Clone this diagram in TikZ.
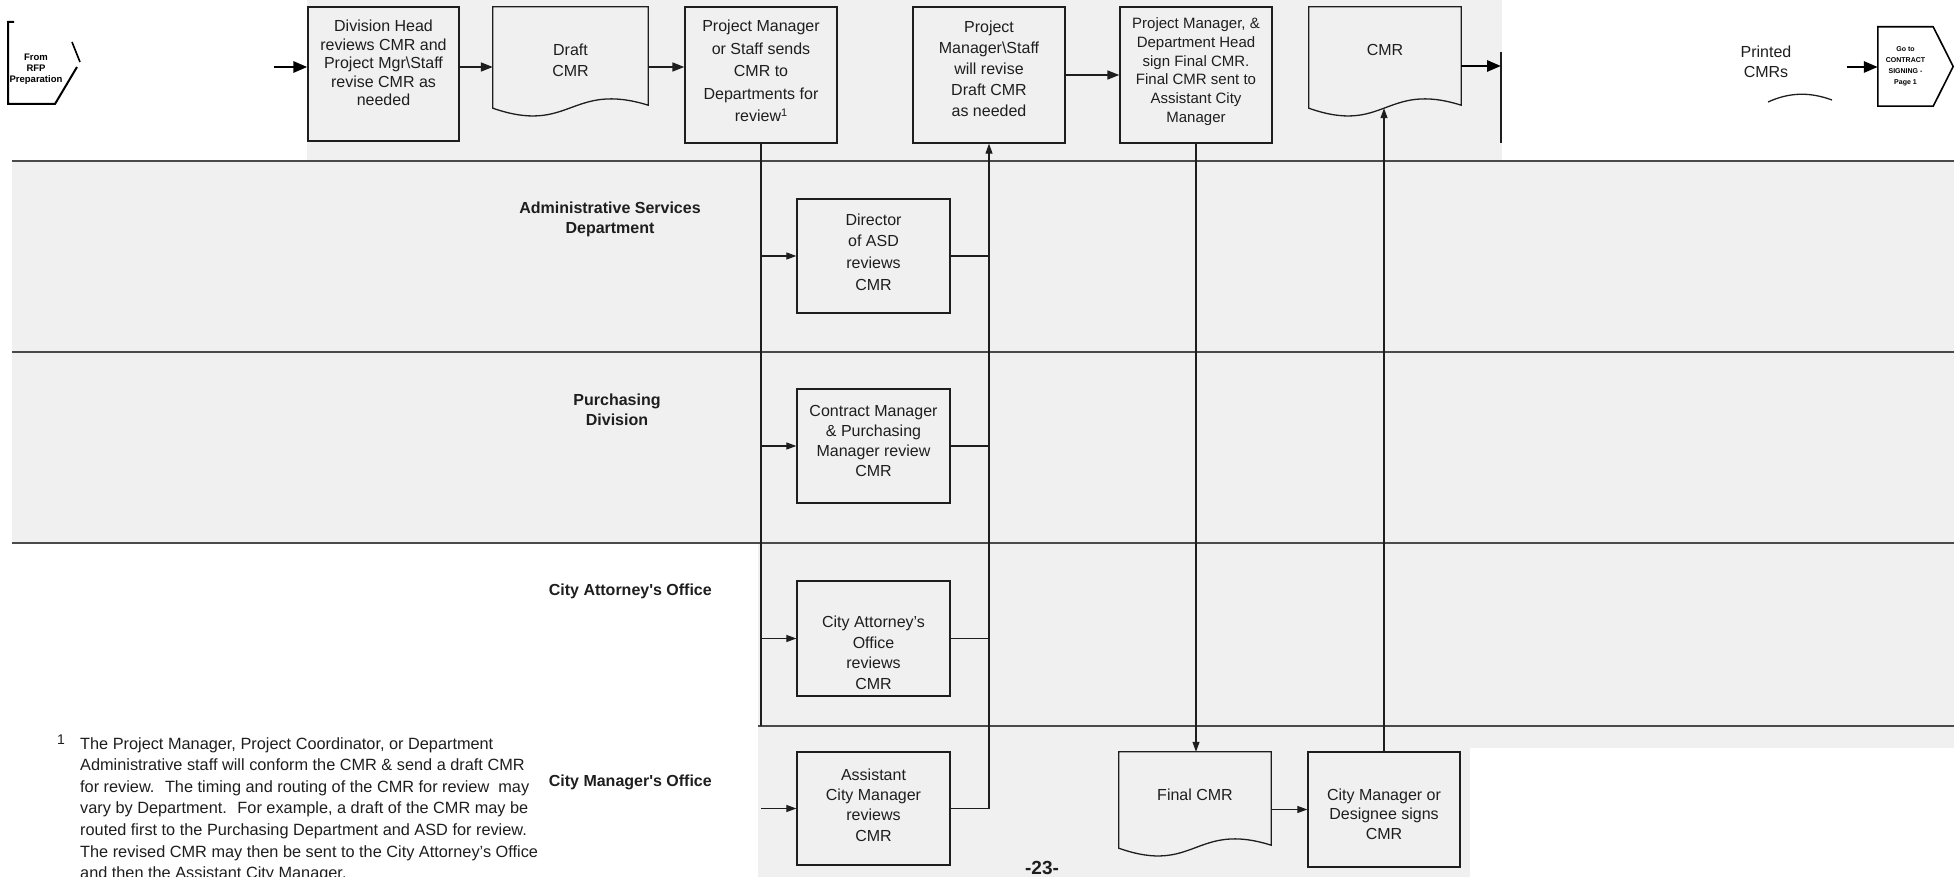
\documentclass[tikz,border=0pt]{standalone}
\usepackage{fontspec}
\setmainfont{Liberation Sans}
\usetikzlibrary{arrows.meta,calc}

\definecolor{paper}{HTML}{F0F0F0}
\definecolor{ink}{HTML}{1E1E1E}
\definecolor{rule}{HTML}{4A4A4A}

% outline of a "document" symbol built on a plain node
\newcommand\docoutline[1]{%
  \draw[docline] (#1.north west) -- (#1.north east) -- ($(#1.south east)+(0,-3)$)
    .. controls ($(#1.south)+(0,-27)$) and ($(#1.south)+(0,27)$) .. (#1.south west) -- cycle;}
% footnote reference mark
\newcommand\fnmark{\raisebox{5pt}{\fontsize{11}{11}\selectfont 1}}

\begin{document}
\begin{tikzpicture}[x=1pt,y=-1pt,
  shell/.style={draw=ink,line width=1.3pt,inner sep=0pt},
  procbox/.style={shell,minimum width=152pt},
  docshape/.style={inner sep=0pt,minimum width=152pt},
  docline/.style={draw=ink,line width=1.3pt},
  boxtext/.style={align=center,text=ink,inner sep=0pt,font=\fontsize{16}{20}\selectfont},
  lanelabel/.style={align=center,text=ink,inner sep=0pt,font=\bfseries\fontsize{16}{20}\selectfont},
  laneline/.style={draw=rule,line width=1.3pt},
  flow/.style={draw=ink,line width=1.6pt,-{Triangle[length=12pt,width=9pt]}},
  thickflow/.style={draw=black,line width=2.8pt,-{Triangle[length=14pt,width=11pt]}},
  link/.style={draw=ink,line width=1.1pt},
  lanearrow/.style={link,-{Triangle[length=10pt,width=7pt]}},
  fntext/.style={align=left,text=ink,inner sep=0pt,font=\fontsize{16.3}{21.6}\selectfont}
]
\useasboundingbox (0,0) rectangle (1954,877);

% shaded bands
\fill[paper] (307,0) rectangle (1502,161);
\fill[paper] (12,161) rectangle (1954,543);
\fill[paper] (758,543) rectangle (1954,726);
\fill[paper] (758,726) rectangle (1470,877);
\fill[paper] (1470,726) rectangle (1954,748);

% lane separators
\draw[laneline] (12,161) -- (1954,161);
\draw[laneline] (12,352) -- (1954,352);
\draw[laneline] (12,543) -- (1954,543);
\draw[laneline] (758,726) -- (1954,726);

% lane titles
\node[lanelabel] (lbl-asd) at (610,219) {Administrative Services\\Department};
\node[lanelabel] (lbl-purch) at (617,410) {Purchasing\\Division};
\node[lanelabel,anchor=east] (lbl-atty) at (712,591) {City Attorney\textquotesingle s Office};
\node[lanelabel,anchor=east] (lbl-cmo) at (712,782) {City Manager\textquotesingle s Office};

% off-page connector: incoming
\node[inner sep=0pt,align=center,font=\bfseries\fontsize{9.5}{11}\selectfont] (from) at (36,69) {From\\RFP\\Preparation};
\draw[black,line width=2pt] (14,22) -- (8,22) -- (8,104) -- (55,104) -- (77,67);
\draw[black,line width=1.6pt] (72,42) -- (80,62);

% top band
\coordinate (flowline) at (0,67);
\coordinate (from-out) at (274,67);

\node[procbox,minimum width=151pt,minimum height=134pt] (divhead) at (383.5,74) {};
\node[boxtext,font=\fontsize{16}{18.5}\selectfont] (divhead-t) at (383.5,63)
  {Division Head\\reviews CMR and\\Project Mgr\textbackslash Staff\\revise CMR as\\needed};

\node[docshape,minimum width=155pt,minimum height=101pt] (draft) at (570.5,57.5) {};
\docoutline{draft}
\node[boxtext,font=\fontsize{16}{21}\selectfont] (draft-t) at (570.5,60) {Draft\\CMR};

\node[procbox,minimum height=136pt] (sends) at (761,75) {};
\node[boxtext,font=\fontsize{16}{22.4}\selectfont] (sends-t) at (761,71)
  {Project Manager\\or Staff sends\\CMR to\\Departments for\\review\fnmark};

\node[procbox,minimum height=136pt] (revise) at (989,75) {};
\node[boxtext,font=\fontsize{16}{21}\selectfont] (revise-t) at (989,69)
  {Project\\Manager\textbackslash Staff\\will revise\\Draft CMR\\as needed};

\node[procbox,minimum height=136pt] (sign) at (1196,75) {};
\node[boxtext,font=\fontsize{15}{18.7}\selectfont] (sign-t) at (1196,71.5)
  {Project Manager, \&\\Department Head\\sign Final CMR.\\Final CMR sent to\\Assistant City\\Manager};

\node[docshape,minimum width=152pt,minimum height=101pt] (cmr) at (1385,57.5) {};
\docoutline{cmr}
\node[boxtext] (cmr-t) at (1385,50) {CMR};

\coordinate (endbar-top) at (1501,52);
\coordinate (endbar-bot) at (1501,143);
\coordinate (endbar-in) at (1501,66);
\draw[draw=ink,line width=1.8pt] (endbar-top) -- (endbar-bot);

\node[boxtext] (printed) at (1766,62) {Printed\\CMRs};
\draw[docline] (1768,102) .. controls (1790,92) and (1810,92) .. (1832,100);

% off-page connector: outgoing
\node[inner sep=0pt,minimum width=55pt,minimum height=79pt,align=center,
      font=\bfseries\fontsize{7}{11}\selectfont] (goto) at (1905.5,66.5)
  {Go to\\CONTRACT\\SIGNING -\\Page 1};
\draw[black,line width=1.6pt] (goto.north west) -- (goto.north east)
  -- ($(goto.east)+(20,0)$) -- (goto.south east) -- (goto.south west) -- cycle;
\coordinate (goto-in) at (1847,67);

% review lanes
\node[procbox,minimum width=153pt,minimum height=114pt] (asd) at (873.5,256) {};
\node[boxtext,font=\fontsize{16}{21.6}\selectfont] (asd-t) at (873.5,252)
  {Director\\of ASD\\reviews\\CMR};

\node[procbox,minimum width=153pt,minimum height=114pt] (purch) at (873.5,446) {};
\node[boxtext,font=\fontsize{16}{20.3}\selectfont] (purch-t) at (873.5,441)
  {Contract Manager\\\& Purchasing\\Manager review\\CMR};

\node[procbox,minimum width=153pt,minimum height=115pt] (atty) at (873.5,638.5) {};
\node[boxtext,font=\fontsize{16}{20.5}\selectfont] (atty-t) at (873.5,653)
  {City Attorney's\\Office\\reviews\\CMR};

\node[procbox,minimum width=153pt,minimum height=113pt] (acm) at (873.5,808.5) {};
\node[boxtext,font=\fontsize{16}{20.3}\selectfont] (acm-t) at (873.5,805)
  {Assistant\\City Manager\\reviews\\CMR};

\node[docshape,minimum width=152pt,minimum height=96pt] (final) at (1195,800) {};
\docoutline{final}
\node[boxtext] (final-t) at (1195,795) {Final CMR};

\node[procbox,minimum height=115pt] (cmsign) at (1384,809.5) {};
\node[boxtext,font=\fontsize{16}{19.5}\selectfont] (cmsign-t) at (1384,814)
  {City Manager or\\Designee signs\\CMR};

% connectors, top band
\draw[thickflow] (from-out) -- (divhead.west |- from-out);
\draw[flow] (divhead.east |- flowline) -- (draft.west |- flowline);
\draw[flow] (draft.east |- flowline) -- (sends.west |- flowline);
\draw[flow] (revise.east) -- (sign.west);
\draw[thickflow] (cmr.east |- endbar-in) -- (endbar-in);
\draw[thickflow] (goto-in) -- (goto.west |- goto-in);

% distribution trunk
\coordinate (trunk-end) at (0,726);
\draw[link] (sends.south) -- (sends.south |- trunk-end);
\draw[lanearrow] (sends.south |- asd.west) -- (asd.west);
\draw[lanearrow] (sends.south |- purch.west) -- (purch.west);
\draw[lanearrow] (sends.south |- atty.west) -- (atty.west);
\draw[lanearrow] (sends.south |- acm.west) -- (acm.west);

% return trunk
\draw[link] (asd.east) -- (asd.east -| revise.south);
\draw[link] (purch.east) -- (purch.east -| revise.south);
\draw[link] (atty.east) -- (atty.east -| revise.south);
\draw[lanearrow] (acm.east) -- (acm.east -| revise.south) -- (revise.south);

% signing
\draw[lanearrow] (sign.south) -- (sign.south |- final.north);
\draw[lanearrow] (final.east |- cmsign.west) -- (cmsign.west);
\draw[lanearrow] (cmsign.north) -- (cmsign.north |- cmr.south);

% page number and footnote
\node[inner sep=0pt,text=ink,font=\bfseries\fontsize{19}{22}\selectfont] (pageno) at (1042,868) {-23-};
\node[inner sep=0pt,text=ink,font=\fontsize{14}{14}\selectfont] (fn-mark) at (61,740) {1};
\node[fntext,anchor=north west] (fn) at (80,737)
  {The Project Manager, Project Coordinator, or Department\\
   Administrative staff will conform the CMR \& send a draft CMR\\
   for review.~ The timing and routing of the CMR for review~ may\\
   vary by Department.~ For example, a draft of the CMR may be\\
   routed first to the Purchasing Department and ASD for review.\\
   The revised CMR may then be sent to the City Attorney's Office\\
   and then the Assistant City Manager.};
\end{tikzpicture}
\end{document}
